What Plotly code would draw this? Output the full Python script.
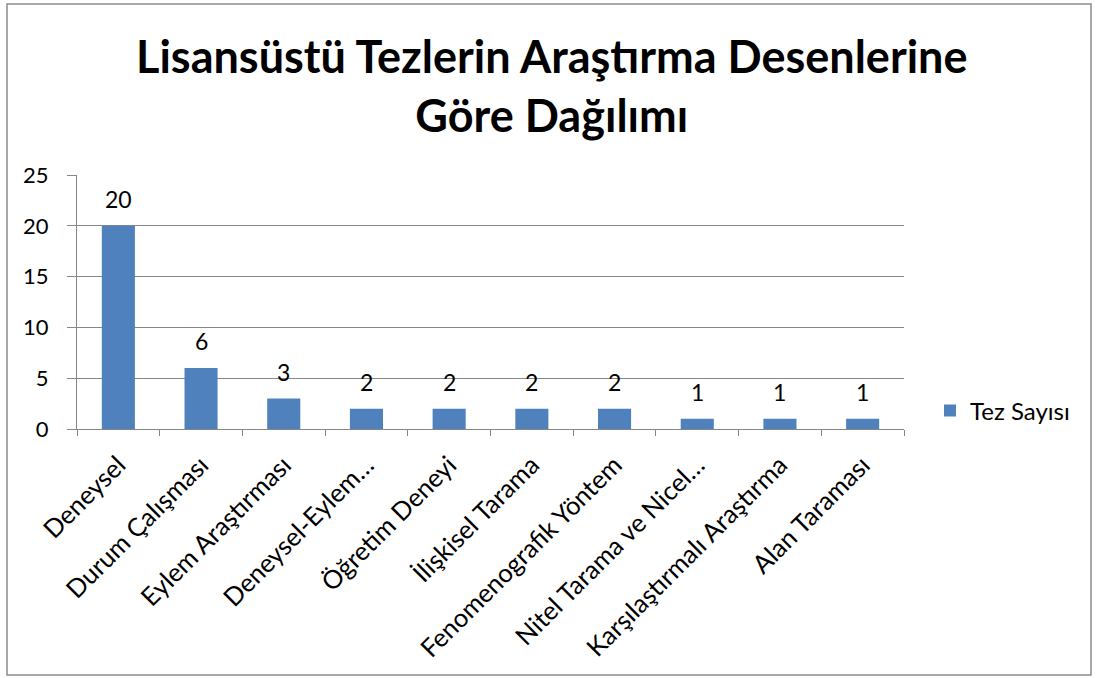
import plotly.graph_objects as go

categories = ["Deneysel", "Durum Çalışması", "Eylem Araştırması", "Deneysel-Eylem…",
              "Öğretim Deneyi", "İlişkisel Tarama", "Fenomenografik Yöntem",
              "Nitel Tarama ve Nicel…", "Karşılaştırmalı Araştırma", "Alan Taraması"]
tez_sayisi = [20, 6, 3, 2, 2, 2, 2, 1, 1, 1]
y_ticks = [0, 5, 10, 15, 20, 25]

FONT = "Lato"
W, H = 1097, 678
L, R, T, B = 77, 193, 175, 249
pw, ph = W - L - R, H - T - B

def px(x):
    return (x - L) / pw

def py(y):
    return (H - B - y) / ph

fig = go.Figure()
fig.add_trace(go.Bar(
    x=categories, y=tez_sayisi, name="Tez Sayısı",
    marker=dict(color="#4F81BD", line=dict(width=0)),
))

# value labels above the bars
for c, v in zip(categories, tez_sayisi):
    fig.add_annotation(x=c, y=v, text=str(v), showarrow=False,
                       yanchor="middle", yshift=27,
                       font=dict(family=FONT, size=23, color="black"))

fig.update_layout(
    width=W, height=H,
    margin=dict(l=L, r=R, t=T, b=B),
    paper_bgcolor="white", plot_bgcolor="white",
    bargap=0.6,
    showlegend=True,
    legend=dict(x=px(930), y=py(411), xanchor="left", yanchor="middle",
                font=dict(family=FONT, size=24, color="black"),
                itemwidth=30),
    title=dict(text="<b>Lisansüstü Tezlerin Araştırma Desenlerine<br>Göre Dağılımı</b>",
               xref="container", x=0.503, y=1 - 73 / H, yanchor="middle",
               font=dict(family=FONT, size=45, color="black")),
    font=dict(family=FONT, color="black"),
)

fig.update_xaxes(
    showline=True, linecolor="#868686", linewidth=1,
    ticks="outside", ticklen=6, tickcolor="#868686",
    tickson="boundaries", tickangle=-45, ticklabelstandoff=10,
    tickfont=dict(family=FONT, size=25.5, color="black"),
    showgrid=False,
)
fig.update_yaxes(
    range=[0, 25], tickvals=y_ticks,
    showline=True, linecolor="#868686", linewidth=1,
    ticks="outside", ticklen=9, tickcolor="#868686",
    ticklabelstandoff=14,
    showgrid=True, gridcolor="#868686", gridwidth=1,
    tickfont=dict(family=FONT, size=22, color="black"),
    zeroline=False,
)

fig.add_shape(type="rect", xref="paper", yref="paper",
              x0=px(7), x1=px(1091), y0=py(675), y1=py(4),
              line=dict(color="#8C8C8C", width=1.5), layer="below")

fig.write_html("out.html", config={"displayModeBar": False},
               post_script="document.body.style.margin='0';")
